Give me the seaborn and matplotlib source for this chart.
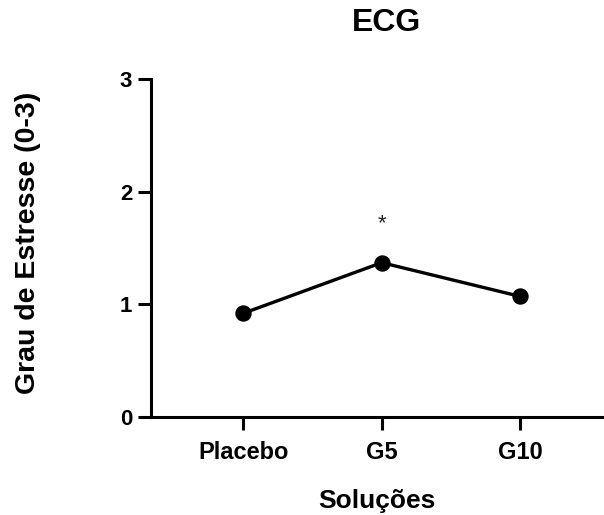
import matplotlib
matplotlib.use("Agg")
import matplotlib.pyplot as plt
import seaborn as sns
import pandas as pd

categories = ["Placebo", "G5", "G10"]
values = [0.92, 1.37, 1.07]
annotations = ["", "*", ""]
annotation_y = [None, 1.72, None]
y_ticks = [0, 1, 2, 3]

sns.set_theme(style="ticks")
plt.rcParams["font.family"] = ["Liberation Sans", "DejaVu Sans"]
plt.rcParams["text.color"] = "black"
plt.rcParams["axes.labelcolor"] = "black"
plt.rcParams["xtick.color"] = "black"
plt.rcParams["ytick.color"] = "black"

df = pd.DataFrame({"Soluções": categories, "Grau": values})

fig = plt.figure(figsize=(6.04, 5.15), dpi=100)
ax = fig.add_axes([0.25, 0.1903, 0.749, 0.6563])

sns.pointplot(data=df, x="Soluções", y="Grau", color="black",
              markersize=10, linewidth=2.4, ax=ax, errorbar=None)

for i, (a, yy) in enumerate(zip(annotations, annotation_y)):
    if a:
        ax.text(i, yy, a, ha="center", va="center", fontsize=16, color="#222222")

ax.set_ylim(0, 3)
ax.set_xlim(-0.665, 2.6)
ax.set_yticks(y_ticks)
ax.set_yticklabels([str(t) for t in y_ticks], fontsize=16, fontweight="bold")
ax.set_xticks(range(len(categories)))
ax.set_xticklabels(categories, fontsize=17, fontweight="bold")
ax.tick_params(axis="both", length=9.5, width=2.2, color="black")
ax.tick_params(axis="y", pad=4)
ax.tick_params(axis="x", pad=8)
for s in ["top", "right"]:
    ax.spines[s].set_visible(False)
for s in ["left", "bottom"]:
    ax.spines[s].set_linewidth(2.2)
    ax.spines[s].set_color("black")

ax.set_xlabel("Soluções", fontsize=19, fontweight="bold", va="center")
ax.set_ylabel("Grau de Estresse (0-3)", fontsize=20.5, fontweight="bold", va="center")
ax.xaxis.set_label_coords(0.5, -0.25)
ax.yaxis.set_label_coords(-0.272, 0.515)
fig.text(387 / 604, 1 - 23 / 515, "ECG", ha="center", va="center", fontsize=23, fontweight="bold")

fig.savefig("out.png", dpi=100)
